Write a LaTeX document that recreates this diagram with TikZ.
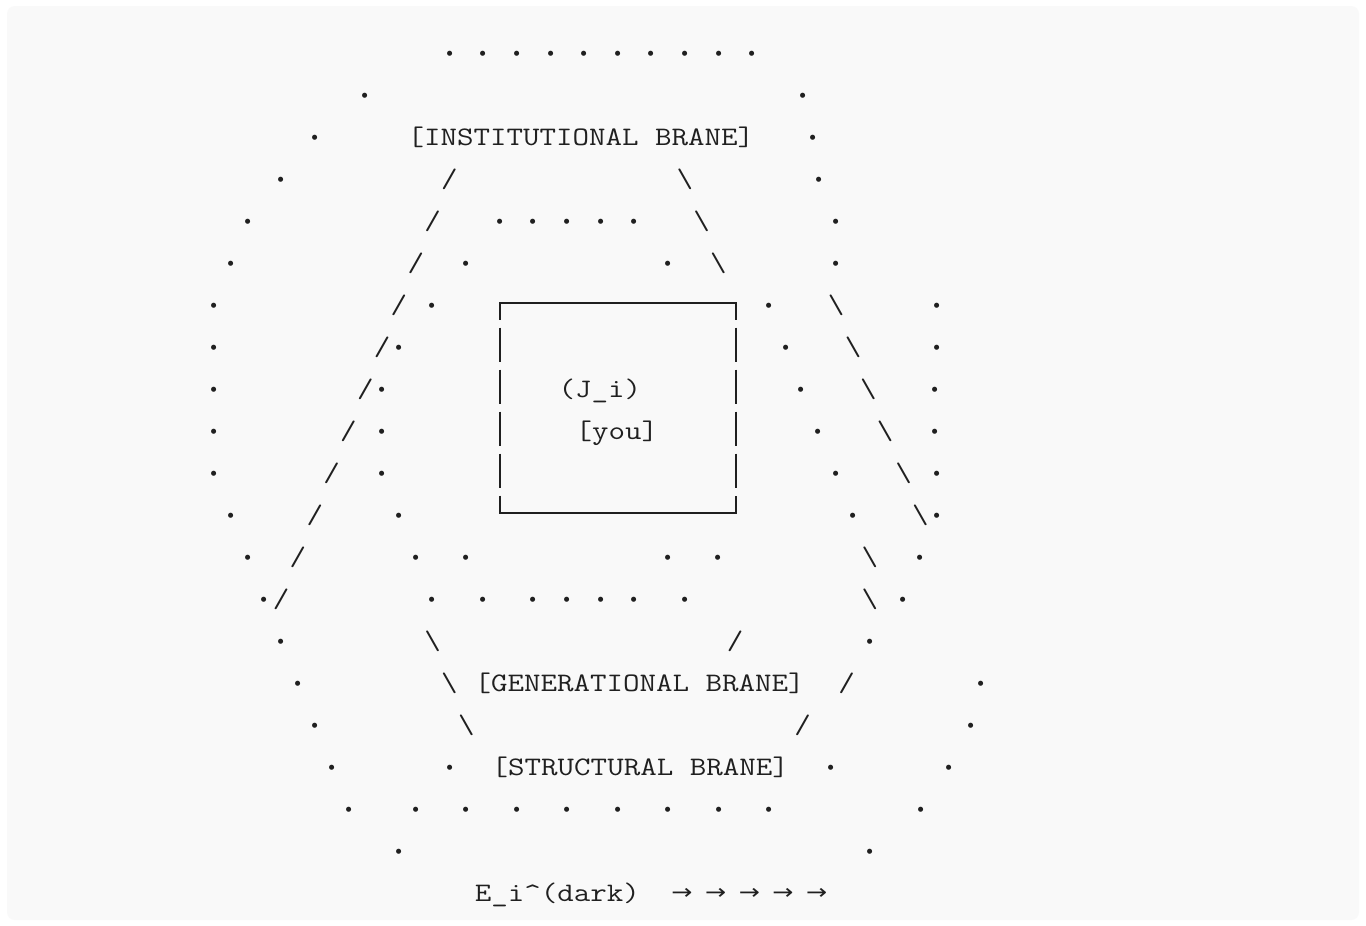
\documentclass[tikz,border=0pt]{standalone}
\usepackage{graphicx}
\usepackage{fontspec}
\newfontfamily\arrowfont{DejaVu Sans}
\definecolor{ink}{RGB}{32,32,32}
\definecolor{bgpanel}{RGB}{249,249,249}
\newlength\cwd
\setlength\cwd{14.0175pt}
\newcommand\rowfont{\fontsize{26.7pt}{30pt}\selectfont\ttfamily\frenchspacing}
\newcommand\gap[1]{\kern#1\cwd}
\newcommand\Bs{\textbackslash}
\newcommand\D{\makebox[\cwd][c]{\raisebox{-6pt}{\scalebox{0.833}[1]{\fontsize{45pt}{45pt}\selectfont ·}}}}
\newcommand\Ar{\makebox[\cwd][c]{\raisebox{1.5pt}{\arrowfont\fontsize{21pt}{21pt}\selectfont →}}}
\newcommand\rowtxt[1]{\scalebox{1.20064}[1]{#1}}
\newcommand\colx[1]{20.45+16.83*#1}
\tikzset{
  row/.style={anchor=base west,inner sep=0pt,outer sep=0pt,text=ink,font=\rowfont},
  boxline/.style={draw=ink,line width=1.8pt,line cap=butt,line join=miter}
}
\begin{document}
\begin{tikzpicture}[x=1pt,y=-1pt]
\useasboundingbox (0,0) rectangle (1366,926);
\fill[white] (0,0) rectangle (1366,926);
\fill[bgpanel,rounded corners=8pt] (7,6) rectangle (1359,920);

\node[row] (r1)  at ({\colx{25}},61)  {\rowtxt{\D\gap{1}\D\gap{1}\D\gap{1}\D\gap{1}\D\gap{1}\D\gap{1}\D\gap{1}\D\gap{1}\D\gap{1}\D}};
\node[row] (r2)  at ({\colx{20}},103) {\rowtxt{\D\gap{25}\D}};
\node[row] (r3)  at ({\colx{17}},145) {\rowtxt{\D\gap{5}[INSTITUTIONAL BRANE]\gap{3}\D}};
\node[row] (r4)  at ({\colx{15}},187) {\rowtxt{\D\gap{9}/\gap{13}\Bs\gap{7}\D}};
\node[row] (r5)  at ({\colx{13}},229) {\rowtxt{\D\gap{10}/\gap{3}\D\gap{1}\D\gap{1}\D\gap{1}\D\gap{1}\D\gap{3}\Bs\gap{7}\D}};
\node[row] (r6)  at ({\colx{12}},271) {\rowtxt{\D\gap{10}/\gap{2}\D\gap{11}\D\gap{2}\Bs\gap{6}\D}};
\node[row] (r7)  at ({\colx{11}},313) {\rowtxt{\D\gap{10}/\gap{1}\D\gap{19}\D\gap{3}\Bs\gap{5}\D}};
\node[row] (r8)  at ({\colx{11}},355) {\rowtxt{\D\gap{9}/\D\gap{22}\D\gap{3}\Bs\gap{4}\D}};
\node[row] (r9)  at ({\colx{11}},397) {\rowtxt{\D\gap{8}/\D\gap{10}(J\_i)\gap{9}\D\gap{3}\Bs\gap{3}\D}};
\node[row] (r10) at ({\colx{11}},439) {\rowtxt{\D\gap{7}/\gap{1}\D\gap{11}[you]\gap{9}\D\gap{3}\Bs\gap{2}\D}};
\node[row] (r11) at ({\colx{11}},481) {\rowtxt{\D\gap{6}/\gap{2}\D\gap{26}\D\gap{3}\Bs\gap{1}\D}};
\node[row] (r12) at ({\colx{12}},523) {\rowtxt{\D\gap{4}/\gap{4}\D\gap{26}\D\gap{3}\Bs\D}};
\node[row] (r13) at ({\colx{13}},565) {\rowtxt{\D\gap{2}/\gap{6}\D\gap{2}\D\gap{11}\D\gap{2}\D\gap{8}\Bs\gap{2}\D}};
\node[row] (r14) at ({\colx{14}},607) {\rowtxt{\D/\gap{8}\D\gap{2}\D\gap{2}\D\gap{1}\D\gap{1}\D\gap{1}\D\gap{2}\D\gap{10}\Bs\gap{1}\D}};
\node[row] (r15) at ({\colx{15}},649) {\rowtxt{\D\gap{8}\Bs\gap{17}/\gap{7}\D}};
\node[row] (r16) at ({\colx{16}},691) {\rowtxt{\D\gap{8}\Bs\gap{1}[GENERATIONAL BRANE]\gap{2}/\gap{7}\D}};
\node[row] (r17) at ({\colx{17}},733) {\rowtxt{\D\gap{8}\Bs\gap{19}/\gap{9}\D}};
\node[row] (r18) at ({\colx{18}},775) {\rowtxt{\D\gap{6}\D\gap{2}[STRUCTURAL BRANE]\gap{2}\D\gap{6}\D}};
\node[row] (r19) at ({\colx{19}},817) {\rowtxt{\D\gap{3}\D\gap{2}\D\gap{2}\D\gap{2}\D\gap{2}\D\gap{2}\D\gap{2}\D\gap{2}\D\gap{8}\D}};
\node[row] (r20) at ({\colx{22}},859) {\rowtxt{\D\gap{27}\D}};
\node[row] (r21) at ({\colx{27}},901) {\rowtxt{E\_i\textasciicircum(dark)\gap{2}\Ar\gap{1}\Ar\gap{1}\Ar\gap{1}\Ar\gap{1}\Ar}};

% the box round (J_i) [you]
\draw[boxline] (500.11,319.5) -- (500.11,303) -- (735.73,303) -- (735.73,319.5);
\draw[boxline] (500.11,495.5) -- (500.11,513) -- (735.73,513) -- (735.73,495.5);
\foreach \b in {355,397,439,481}{
  \draw[boxline] (500.11,\b-27.5) -- (500.11,\b+6.5);
  \draw[boxline] (735.73,\b-27.5) -- (735.73,\b+6.5);
}
\end{tikzpicture}
\end{document}
